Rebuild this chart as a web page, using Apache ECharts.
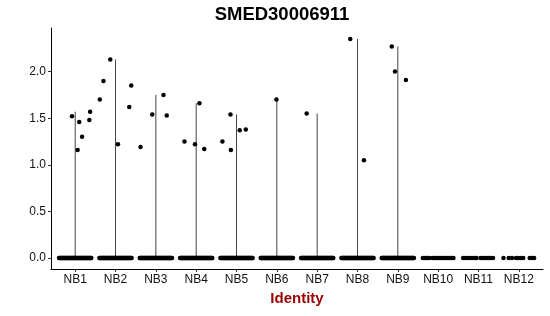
<!DOCTYPE html>
<html>
<head>
<meta charset="utf-8">
<script src="https://cdn.jsdelivr.net/npm/echarts@6/dist/echarts.min.js"></script>
<style>html,body{margin:0;padding:0;background:#fff}#c{width:550px;height:316px}</style>
</head>
<body>
<div id="c"></div>
<script>
// ---- data ----
const categories = ['NB1','NB2','NB3','NB4','NB5','NB6','NB7','NB8','NB9','NB10','NB11','NB12'];
const yTicks = [0, 0.5, 1.0, 1.5, 2.0];
// maximum per group (top of the collapsed violin)
const groupMax = [1.57, 2.13, 1.75, 1.66, 1.54, 1.70, 1.55, 2.35, 2.27, 0, 0, 0];
// non-zero cells: group index, value, horizontal jitter (in category units)
const pointGroup  = [0,0,0,0,0,0, 1,1,1,1,1,1, 2,2,2,2, 3,3,3,3, 4,4,4,4,4, 5, 6, 7,7, 8,8,8];
const pointValue  = [1.52,1.46,1.30,1.16,1.48,1.57, 1.70,1.90,2.13,1.22,1.62,1.85, 1.19,1.54,1.75,1.53, 1.25,1.22,1.66,1.17, 1.25,1.16,1.54,1.37,1.38, 1.70, 1.55, 2.35,1.05, 2.27,2.00,1.91];
const pointJitter = [-0.08,0.10,0.17,0.06,0.35,0.37, -0.39,-0.30,-0.13,0.06,0.34,0.39, -0.38,-0.09,0.19,0.27, -0.29,-0.03,0.08,0.20, -0.35,-0.14,-0.15,0.08,0.23, -0.01, -0.26, -0.18,0.16, -0.15,-0.07,0.20];
// zero-valued cells: number per dense group (NB1..NB9), explicit jitter for sparse groups
const zeroCountDense = [60,60,60,60,60,60,60,60,60];
const zeroJitterNB10 = [-0.38,-0.34,-0.30,-0.26,-0.22,-0.14,-0.10,-0.06,-0.02,0.02,0.06,0.10,0.14,0.18,0.22,0.26,0.30,0.34,0.38];
const zeroJitterNB11 = [-0.38,-0.33,-0.28,-0.22,-0.16,-0.10,-0.05,0.05,0.10,0.15,0.20,0.25,0.30,0.36];
const zeroJitterNB12 = [-0.38,-0.25,-0.17,-0.07,-0.02,0.05,0.11,0.27,0.33,0.38];

// ---- build series data ----
const nonZeroData = pointValue.map((v, k) => [pointGroup[k] + 1 + pointJitter[k], v]);
const zeroData = [];
zeroCountDense.forEach((n, g) => {
  for (let k = 0; k < n; k++) zeroData.push([g + 1 - 0.4 + 0.8 * k / (n - 1), 0]);
});
[[9, zeroJitterNB10], [10, zeroJitterNB11], [11, zeroJitterNB12]].forEach(([g, arr]) => {
  arr.forEach(j => zeroData.push([g + 1 + j, 0]));
});
const lineData = groupMax.map((m, i) => [i + 1, m]);

const FONT = 'Liberation Sans, Arial, Helvetica, sans-serif';
const chart = echarts.init(document.getElementById('c'), null, {renderer: 'canvas'});
chart.setOption({
  animation: false,
  backgroundColor: '#fff',
  grid: {left: 51, right: 7, top: 28, bottom: 47, containLabel: false},
  xAxis: {
    type: 'value', min: 0.4, max: 12.6,
    splitLine: {show: false},
    axisLine: {show: true, onZero: false, lineStyle: {color: '#000', width: 1}},
    axisTick: {show: true, length: 3, lineStyle: {color: '#333'}, customValues: categories.map((c, i) => i + 1)},
    axisLabel: {
      customValues: categories.map((c, i) => i + 1),
      formatter: v => categories[Math.round(v) - 1] || '',
      color: '#111', fontSize: 12, fontFamily: FONT, margin: 5
    }
  },
  yAxis: {
    type: 'value', min: -0.1175, max: 2.4675,
    splitLine: {show: false},
    axisLine: {show: true, onZero: false, lineStyle: {color: '#000', width: 1}},
    axisTick: {show: true, length: 3, lineStyle: {color: '#333'}, customValues: yTicks},
    axisLabel: {
      customValues: yTicks,
      formatter: v => v.toFixed(1),
      color: '#111', fontSize: 12, fontFamily: FONT, margin: 5
    }
  },
  graphic: [
    {type: 'text', x: 282, y: 14.5, style: {text: 'SMED30006911', font: 'bold 18.5px ' + FONT, fill: '#000', textAlign: 'center', textVerticalAlign: 'middle'}},
    {type: 'text', x: 297, y: 299, style: {text: 'Identity', font: 'bold 15px ' + FONT, fill: '#990000', textAlign: 'center', textVerticalAlign: 'middle'}}
  ],
  series: [
    {
      type: 'custom',
      data: lineData,
      renderItem: (params, api) => {
        const x = api.value(0), m = api.value(1);
        if (!(m > 0)) return null;
        const p0 = api.coord([x, 0]), p1 = api.coord([x, m]);
        return {type: 'line', shape: {x1: p0[0], y1: p0[1], x2: p1[0], y2: p1[1]}, style: {stroke: '#444', lineWidth: 1}};
      },
      z: 1
    },
    {type: 'scatter', data: zeroData, symbolSize: 4.5, itemStyle: {color: '#000', opacity: 1}, z: 2},
    {type: 'scatter', data: nonZeroData, symbolSize: 4.5, itemStyle: {color: '#000', opacity: 1}, z: 3}
  ]
});
</script>
</body>
</html>
